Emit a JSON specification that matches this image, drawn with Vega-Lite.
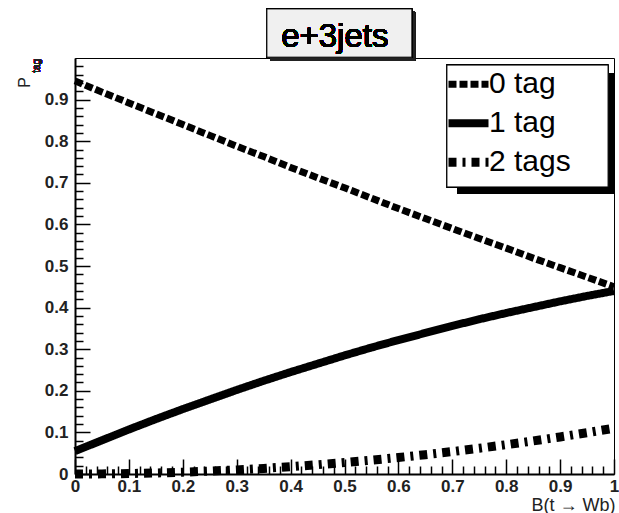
{
  "$schema": "https://vega.github.io/schema/vega-lite/v6.json",
  "width": 539,
  "height": 416,
  "autosize": {"type": "none"},
  "padding": {"left": 75, "top": 58, "right": 5, "bottom": 39},
  "background": "white",
  "config": {
    "view": {"stroke": "black", "strokeWidth": 1},
    "axis": {"grid": false}
  },
  "datasets": {
    "curves": [
      {"B": 0.00, "P": 0.945, "series": "0 tag"},
      {"B": 0.05, "P": 0.918, "series": "0 tag"},
      {"B": 0.10, "P": 0.892, "series": "0 tag"},
      {"B": 0.15, "P": 0.866, "series": "0 tag"},
      {"B": 0.20, "P": 0.840, "series": "0 tag"},
      {"B": 0.25, "P": 0.814, "series": "0 tag"},
      {"B": 0.30, "P": 0.788, "series": "0 tag"},
      {"B": 0.35, "P": 0.763, "series": "0 tag"},
      {"B": 0.40, "P": 0.737, "series": "0 tag"},
      {"B": 0.45, "P": 0.712, "series": "0 tag"},
      {"B": 0.50, "P": 0.688, "series": "0 tag"},
      {"B": 0.55, "P": 0.663, "series": "0 tag"},
      {"B": 0.60, "P": 0.638, "series": "0 tag"},
      {"B": 0.65, "P": 0.614, "series": "0 tag"},
      {"B": 0.70, "P": 0.590, "series": "0 tag"},
      {"B": 0.75, "P": 0.566, "series": "0 tag"},
      {"B": 0.80, "P": 0.543, "series": "0 tag"},
      {"B": 0.85, "P": 0.519, "series": "0 tag"},
      {"B": 0.90, "P": 0.496, "series": "0 tag"},
      {"B": 0.95, "P": 0.473, "series": "0 tag"},
      {"B": 1.00, "P": 0.450, "series": "0 tag"},
      {"B": 0.00, "P": 0.055, "series": "1 tag"},
      {"B": 0.05, "P": 0.081, "series": "1 tag"},
      {"B": 0.10, "P": 0.107, "series": "1 tag"},
      {"B": 0.15, "P": 0.132, "series": "1 tag"},
      {"B": 0.20, "P": 0.156, "series": "1 tag"},
      {"B": 0.25, "P": 0.179, "series": "1 tag"},
      {"B": 0.30, "P": 0.202, "series": "1 tag"},
      {"B": 0.35, "P": 0.224, "series": "1 tag"},
      {"B": 0.40, "P": 0.245, "series": "1 tag"},
      {"B": 0.45, "P": 0.265, "series": "1 tag"},
      {"B": 0.50, "P": 0.285, "series": "1 tag"},
      {"B": 0.55, "P": 0.304, "series": "1 tag"},
      {"B": 0.60, "P": 0.322, "series": "1 tag"},
      {"B": 0.65, "P": 0.339, "series": "1 tag"},
      {"B": 0.70, "P": 0.356, "series": "1 tag"},
      {"B": 0.75, "P": 0.372, "series": "1 tag"},
      {"B": 0.80, "P": 0.387, "series": "1 tag"},
      {"B": 0.85, "P": 0.401, "series": "1 tag"},
      {"B": 0.90, "P": 0.415, "series": "1 tag"},
      {"B": 0.95, "P": 0.428, "series": "1 tag"},
      {"B": 1.00, "P": 0.440, "series": "1 tag"},
      {"B": 0.00, "P": 0.000, "series": "2 tags"},
      {"B": 0.05, "P": 0.0003, "series": "2 tags"},
      {"B": 0.10, "P": 0.001, "series": "2 tags"},
      {"B": 0.15, "P": 0.0025, "series": "2 tags"},
      {"B": 0.20, "P": 0.0044, "series": "2 tags"},
      {"B": 0.25, "P": 0.0069, "series": "2 tags"},
      {"B": 0.30, "P": 0.0099, "series": "2 tags"},
      {"B": 0.35, "P": 0.0135, "series": "2 tags"},
      {"B": 0.40, "P": 0.0176, "series": "2 tags"},
      {"B": 0.45, "P": 0.0223, "series": "2 tags"},
      {"B": 0.50, "P": 0.0275, "series": "2 tags"},
      {"B": 0.55, "P": 0.0333, "series": "2 tags"},
      {"B": 0.60, "P": 0.0396, "series": "2 tags"},
      {"B": 0.65, "P": 0.0465, "series": "2 tags"},
      {"B": 0.70, "P": 0.0539, "series": "2 tags"},
      {"B": 0.75, "P": 0.0619, "series": "2 tags"},
      {"B": 0.80, "P": 0.0704, "series": "2 tags"},
      {"B": 0.85, "P": 0.0795, "series": "2 tags"},
      {"B": 0.90, "P": 0.0891, "series": "2 tags"},
      {"B": 0.95, "P": 0.0993, "series": "2 tags"},
      {"B": 1.00, "P": 0.110, "series": "2 tags"}
    ]
  },
  "data": {"name": "curves"},
  "resolve": {"axis": {"x": "independent", "y": "independent"}},
  "layer": [
    {
      "mark": {"type": "rect", "color": "#222222", "clip": false},
      "encoding": {
        "x": {"datum": 0.362, "type": "quantitative", "scale": {"domain": [0, 1], "nice": false}, "axis": null},
        "x2": {"datum": 0.631},
        "y": {"datum": 1.111, "type": "quantitative", "scale": {"domain": [0, 1], "nice": false}, "axis": null},
        "y2": {"datum": 0.994}
      }
    },
    {
      "mark": {"type": "rect", "fill": "#f0f0f0", "stroke": "black", "strokeWidth": 1, "clip": false},
      "encoding": {
        "x": {"datum": 0.356, "type": "quantitative", "scale": {"domain": [0, 1], "nice": false}, "axis": null},
        "x2": {"datum": 0.625},
        "y": {"datum": 1.118, "type": "quantitative", "scale": {"domain": [0, 1], "nice": false}, "axis": null},
        "y2": {"datum": 1.002}
      }
    },
    {
      "mark": {"type": "text", "text": "e+3jets", "font": "Liberation Sans", "fontSize": 33, "align": "center", "baseline": "alphabetic", "color": "black", "clip": false},
      "encoding": {
        "x": {"datum": 0.482, "type": "quantitative", "scale": {"domain": [0, 1], "nice": false}, "axis": null},
        "y": {"datum": 1.026, "type": "quantitative", "scale": {"domain": [0, 1], "nice": false}, "axis": null}
      }
    },
    {
      "mark": {"type": "text", "text": "tag", "font": "Liberation Sans", "fontSize": 10, "angle": 270, "align": "center", "baseline": "middle", "color": "#222222", "clip": false},
      "encoding": {
        "x": {"datum": -0.0705, "type": "quantitative", "scale": {"domain": [0, 1], "nice": false}, "axis": null},
        "y": {"datum": 0.981, "type": "quantitative", "scale": {"domain": [0, 1], "nice": false}, "axis": null}
      }
    },
    {
      "mark": {"type": "line", "color": "black", "strokeCap": "butt"},
      "encoding": {
        "x": {
          "field": "B", "type": "quantitative",
          "scale": {"domain": [0, 1], "nice": false},
          "axis": {
            "orient": "bottom",
            "values": [0, 0.1, 0.2, 0.3, 0.4, 0.5, 0.6, 0.7, 0.8, 0.9, 1],
            "format": "~g",
            "tickSize": -15, "tickWidth": 1.5, "tickColor": "black",
            "domainColor": "black", "domainWidth": 2,
            "labelFont": "Liberation Sans", "labelFontSize": 17, "labelFontWeight": "bold", "labelColor": "#222222",
            "labelPadding": 19, "labelFlush": false, "labelOverlap": false,
            "title": "B(t → Wb)", "titleFont": "Liberation Sans", "titleFontSize": 18, "titleFontWeight": "normal", "titleColor": "#222222",
            "titleX": 540, "titleY": 36, "titleAlign": "right", "titleBaseline": "alphabetic", "titleAnchor": null
          }
        },
        "y": {
          "field": "P", "type": "quantitative",
          "scale": {"domain": [0, 1], "nice": false},
          "axis": {
            "orient": "left",
            "values": [0, 0.1, 0.2, 0.3, 0.4, 0.5, 0.6, 0.7, 0.8, 0.9],
            "format": "~g",
            "tickSize": -15, "tickWidth": 1.5, "tickColor": "black",
            "domainColor": "black", "domainWidth": 2,
            "labelFont": "Liberation Sans", "labelFontSize": 17, "labelFontWeight": "bold", "labelColor": "#222222",
            "labelPadding": 22, "labelOverlap": false,
            "title": "P", "titleFont": "Liberation Sans", "titleFontSize": 16, "titleFontWeight": "normal", "titleColor": "#222222",
            "titleX": -51, "titleY": 24, "titleAngle": -90, "titleAlign": "center", "titleBaseline": "middle", "titleAnchor": null
          }
        },
        "detail": {"field": "series"},
        "strokeDash": {
          "field": "series", "type": "nominal",
          "scale": {"domain": ["0 tag", "1 tag", "2 tags"], "range": [[8, 3], [1, 0], [8, 6, 3, 6]]},
          "legend": {
            "orient": "none", "legendX": 369, "legendY": 7, "title": null,
            "symbolType": "stroke", "symbolSize": 1600, "symbolStrokeColor": "black",
            "labelFont": "Liberation Sans", "labelFontSize": 30, "labelColor": "black",
            "labelOffset": -4, "padding": 0, "rowPadding": 0, "clipHeight": 38.5
          }
        },
        "strokeWidth": {
          "field": "series", "type": "nominal",
          "scale": {"domain": ["0 tag", "1 tag", "2 tags"], "range": [7, 9, 6]}
        }
      }
    },
    {
      "mark": {"type": "point", "opacity": 0},
      "encoding": {
        "x": {
          "field": "B", "type": "quantitative",
          "scale": {"domain": [0, 1], "nice": false},
          "axis": {
            "orient": "bottom",
            "values": [0.02, 0.04, 0.06, 0.08, 0.12, 0.14, 0.16, 0.18, 0.22, 0.24, 0.26, 0.28, 0.32, 0.34, 0.36, 0.38, 0.42, 0.44, 0.46, 0.48, 0.52, 0.54, 0.56, 0.58, 0.62, 0.64, 0.66, 0.68, 0.72, 0.74, 0.76, 0.78, 0.82, 0.84, 0.86, 0.88, 0.92, 0.94, 0.96, 0.98],
            "tickSize": -8, "tickWidth": 1.5, "tickColor": "black",
            "domain": false, "labels": false, "title": null
          }
        },
        "y": {
          "field": "P", "type": "quantitative",
          "scale": {"domain": [0, 1], "nice": false},
          "axis": {
            "orient": "left",
            "values": [0.02, 0.04, 0.06, 0.08, 0.12, 0.14, 0.16, 0.18, 0.22, 0.24, 0.26, 0.28, 0.32, 0.34, 0.36, 0.38, 0.42, 0.44, 0.46, 0.48, 0.52, 0.54, 0.56, 0.58, 0.62, 0.64, 0.66, 0.68, 0.72, 0.74, 0.76, 0.78, 0.82, 0.84, 0.86, 0.88, 0.92, 0.94, 0.96, 0.98],
            "tickSize": -8, "tickWidth": 1.5, "tickColor": "black",
            "domain": false, "labels": false, "title": null
          }
        }
      }
    },
    {
      "mark": {"type": "rect", "color": "black", "clip": false},
      "encoding": {
        "x": {"datum": 0.709, "type": "quantitative", "scale": {"domain": [0, 1], "nice": false}, "axis": null},
        "x2": {"datum": 1.0},
        "y": {"datum": 0.964, "type": "quantitative", "scale": {"domain": [0, 1], "nice": false}, "axis": null},
        "y2": {"datum": 0.675}
      }
    },
    {
      "mark": {"type": "rect", "fill": "white", "stroke": "black", "strokeWidth": 1, "clip": false},
      "encoding": {
        "x": {"datum": 0.690, "type": "quantitative", "scale": {"domain": [0, 1], "nice": false}, "axis": null},
        "x2": {"datum": 0.989},
        "y": {"datum": 0.983, "type": "quantitative", "scale": {"domain": [0, 1], "nice": false}, "axis": null},
        "y2": {"datum": 0.690}
      }
    }
  ]
}
